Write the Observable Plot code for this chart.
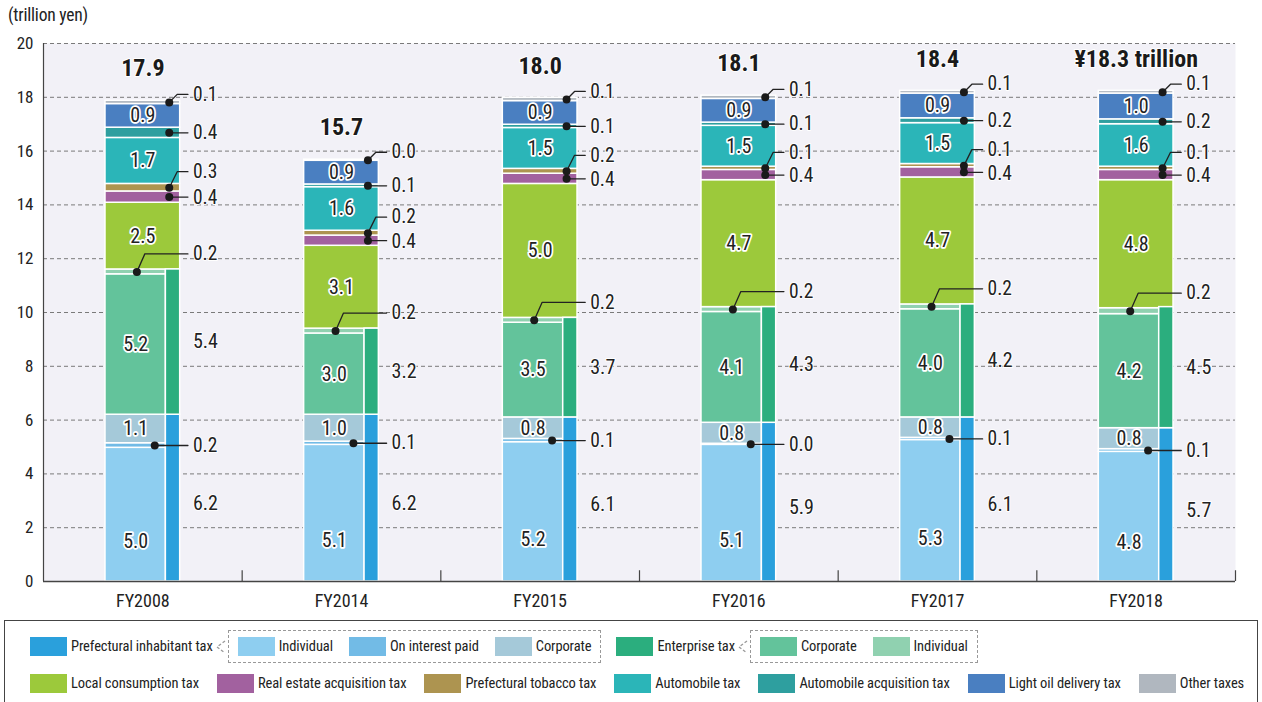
<!DOCTYPE html>
<html>
<head>
<meta charset="utf-8">
<script src="https://cdn.jsdelivr.net/npm/d3@7"></script>
<script src="https://cdn.jsdelivr.net/npm/@observablehq/plot@0.6"></script>
<style>
  html, body { margin: 0; padding: 0; background: #fff; }
  body { width: 1262px; height: 702px; position: relative; overflow: hidden;
         font-family: 'Liberation Sans Narrow', 'Roboto Condensed', 'DejaVu Sans Condensed', 'Arial Narrow', Roboto, sans-serif; color: #222; }
  #unit { position: absolute; left: 8px; top: 5px; font-size: 17.5px; letter-spacing: -0.2px; }
  #chart { position: absolute; left: 0; top: 0; }
  #legend { position: absolute; left: 4px; top: 620px; width: 1254px; height: 100px;
            border: 1.5px solid #444; border-bottom: none; box-sizing: border-box; }
  .row { position: absolute; left: 25px; display: flex; align-items: center; height: 33px; font-size: 14.5px; letter-spacing: -0.1px; white-space: nowrap; }
  .item { display: flex; align-items: center; margin-right: 16px; }
  .sw { width: 37px; height: 19px; margin-right: 4px; }
  .group { border: 1.5px dashed #999; height: 33px; display: flex; align-items: center; padding-left: 9px; margin-right: 15px; box-sizing: border-box; }
  .group .item:last-child { margin-right: 9px; }
  .chev { margin: 0 1px 0 -14px; }
  #row2 .item { margin-right: 18px; }
</style>
</head>
<body>
<div id="unit">(trillion yen)</div>
<div id="chart"></div>
<div id="legend"></div>
<script>
// ---------------- data ----------------
const years = ["FY2008", "FY2014", "FY2015", "FY2016", "FY2017", "FY2018"];
const totalLabels = ["17.9", "15.7", "18.0", "18.1", "18.4", "¥18.3 trillion"];

const inhabitantTotal = [6.2, 6.2, 6.1, 5.9, 6.1, 5.7];
const enterpriseTotal = [5.4, 3.2, 3.7, 4.3, 4.2, 4.5];

const inhIndividual    = [4.97, 5.08, 5.18, 5.08, 5.26, 4.82];
const inhInterest      = [0.17, 0.12, 0.12, 0.04, 0.08, 0.10];
const inhCorporate     = [1.06, 1.00, 0.80, 0.78, 0.76, 0.78];
const entCorporate     = [5.22, 3.02, 3.52, 4.12, 4.02, 4.24];
const entIndividual    = [0.18, 0.18, 0.18, 0.18, 0.18, 0.22];
const localConsumption = [2.48, 3.08, 4.98, 4.72, 4.72, 4.76];
const realEstate       = [0.42, 0.38, 0.38, 0.38, 0.38, 0.38];
const tobacco          = [0.28, 0.18, 0.18, 0.12, 0.12, 0.12];
const automobile       = [1.71, 1.62, 1.52, 1.52, 1.52, 1.58];
const autoAcquisition  = [0.38, 0.10, 0.12, 0.12, 0.18, 0.18];
const lightOil         = [0.88, 0.88, 0.88, 0.88, 0.92, 0.96];
const otherTaxes       = [0.12, 0.04, 0.12, 0.12, 0.10, 0.10];

// ---------------- layout / style config ----------------
const FONT = "'Liberation Sans Narrow', 'Roboto Condensed', 'DejaVu Sans Condensed', 'Arial Narrow', Roboto, sans-serif";
const W = 1262, H = 615, MT = 43, MB = 34, ML = 43, MR = 27;
const pxY = 20 / (H - MT - MB);          // data units per pixel (vertical)
const X0 = 0.312, XSUB = 0.616, X1 = 0.688, XLINE = 0.727, XLAB = 0.752;

const series = [
  {name: "Individual",       values: inhIndividual,    color: "#8ecef0", part: "sub", inside: 0.3},
  {name: "On interest paid", values: inhInterest,      color: "#72bbe6", part: "sub", callout: {cx: 0.56, dy: 0}},
  {name: "Corporate",        values: inhCorporate,     color: "#a5c9d9", part: "sub", inside: 0.5},
  {name: "Corporate",        values: entCorporate,     color: "#63c39b", part: "sub", inside: 0.5},
  {name: "Individual",       values: entIndividual,    color: "#90d1b0", part: "sub", callout: {cx: 0.47, dy: -18}},
  {name: "Local consumption tax",       values: localConsumption, color: "#9cc93b", part: "full", inside: 0.5},
  {name: "Real estate acquisition tax", values: realEstate,       color: "#a2619f", part: "full", callout: {cx: 0.633, dy: 1}},
  {name: "Prefectural tobacco tax",     values: tobacco,          color: "#ad9450", part: "full", callout: {cx: 0.633, dy: -16}},
  {name: "Automobile tax",              values: automobile,       color: "#2bb5b8", part: "full", inside: 0.5},
  {name: "Automobile acquisition tax",  values: autoAcquisition,  color: "#2e9f9f", part: "full", callout: {cx: 0.633, dy: 0}},
  {name: "Light oil delivery tax",      values: lightOil,         color: "#4a7fc1", part: "full", inside: 0.5},
  {name: "Other taxes",                 values: otherTaxes,       color: "#b0b7bf", part: "full", callout: {cx: 0.633, dy: -8}}
];
const inhabitantColor = "#2aa0dc", enterpriseColor = "#2bae7e";

// ---------------- derived tables ----------------
const fmt = d3.format(".1f");
const segs = [], insideLabels = [], callDots = [], callLines = [], callLabels = [], sideBars = [], sideLabels = [], tops = [];
years.forEach((yr, i) => {
  let cum = 0;
  series.forEach((s, k) => {
    const v = s.values[i];
    const y1 = cum, y2 = cum + v;
    const xa = i + X0, xb = i + (s.part === "sub" ? XSUB : X1);
    segs.push({x1: xa, x2: xb, y1, y2, color: s.color});
    if (s.inside != null) {
      insideLabels.push({x: (xa + xb) / 2, y: y1 + v * s.inside, text: fmt(v)});
    }
    if (s.callout) {
      const yc = (y1 + y2) / 2, ly = yc - s.callout.dy * pxY;
      const id = `${i}-${k}`;
      const cx = i + s.callout.cx;
      const bent = Math.abs(s.callout.dy) > 2;
      callDots.push({x: cx, y: yc});
      callLines.push({id, x: cx, y: yc});
      if (bent) callLines.push({id, x: cx + 0.04, y: ly});
      callLines.push({id, x: i + XLINE, y: bent ? ly : yc});
      callLabels.push({x: i + XLAB, y: ly, text: fmt(v)});
    }
    cum = y2;
  });
  tops.push({x: i + 0.5, y: cum, text: totalLabels[i]});
  const a = inhabitantTotal[i], b = enterpriseTotal[i];
  sideBars.push({x1: i + XSUB, x2: i + X1, y1: 0, y2: a, color: inhabitantColor});
  sideBars.push({x1: i + XSUB, x2: i + X1, y1: a, y2: a + b, color: enterpriseColor});
  sideLabels.push({x: i + XLAB, y: a / 2 - 0.2, text: fmt(a)});
  sideLabels.push({x: i + XLAB, y: a + b / 2, text: fmt(b)});
});

// ---------------- chart ----------------
const chart = Plot.plot({
  width: W, height: H,
  marginTop: MT, marginBottom: MB, marginLeft: ML, marginRight: MR,
  style: {fontFamily: FONT, color: "#222", background: "transparent"},
  x: {type: "linear", domain: [0, years.length]},
  y: {domain: [0, 20]},
  marks: [
    Plot.frame({fill: "#f2f1f7", stroke: null}),
    Plot.ruleY(d3.range(2, 21, 2), {stroke: "#7a7a7a", strokeWidth: 1, strokeDasharray: "4,3"}),
    Plot.axisY({ticks: d3.range(0, 21, 2), tickSize: 0, tickPadding: 10, fontSize: 17, label: null}),
    Plot.axisX({ticks: d3.range(years.length).map(i => i + 0.5), tickFormat: d => years[Math.floor(d)],
                tickSize: 0, tickPadding: 13, fontSize: 18, label: null}),
    Plot.rect(segs, {x1: "x1", x2: "x2", y1: "y1", y2: "y2", fill: "color", stroke: "white", strokeWidth: 1.5}),
    Plot.rect(sideBars, {x1: "x1", x2: "x2", y1: "y1", y2: "y2", fill: "color", stroke: "white", strokeWidth: 1.5}),
    Plot.ruleX([0], {stroke: "#444", strokeWidth: 1.2}),
    Plot.ruleY([0], {stroke: "#444", strokeWidth: 1.5}),
    Plot.ruleX(d3.range(1, years.length + 1), {y1: 0, y2: 0.4, stroke: "#444", strokeWidth: 1.2}),
    Plot.text(insideLabels, {x: "x", y: "y", text: "text", fontSize: 20, fill: "#222", stroke: "white", strokeWidth: 3.5}),
    Plot.line(callLines, {x: "x", y: "y", z: "id", stroke: "#222", strokeWidth: 1.3, curve: "linear"}),
    Plot.dot(callDots, {x: "x", y: "y", r: 4, fill: "#1a1a1a", stroke: null}),
    Plot.text(callLabels, {x: "x", y: "y", text: "text", textAnchor: "start", fontSize: 19.5, fill: "#222", stroke: "white", strokeWidth: 2}),
    Plot.text(sideLabels, {x: "x", y: "y", text: "text", textAnchor: "start", fontSize: 20, fill: "#222", stroke: "white", strokeWidth: 2}),
    Plot.text(tops, {x: "x", y: "y", text: "text", dy: -32, fontSize: 24, fontWeight: "bold", fill: "#1a1a1a", stroke: "white", strokeWidth: 2})
  ]
});
document.getElementById("chart").appendChild(chart);

// ---------------- legend ----------------
const legend = d3.select("#legend");
function item(parent, color, label) {
  const it = parent.append("div").attr("class", "item");
  it.append("div").attr("class", "sw").style("background", color);
  it.append("span").text(label);
}
function chevron(parent) {
  parent.append("svg").attr("class", "chev").attr("width", 12).attr("height", 20)
    .append("polyline").attr("points", "10,4 2,10 10,16")
    .attr("fill", "none").attr("stroke", "#999").attr("stroke-width", 1.3).attr("stroke-dasharray", "3,2");
}
const row1 = legend.append("div").attr("class", "row").style("top", "9px");
item(row1, inhabitantColor, "Prefectural inhabitant tax");
chevron(row1);
const g1 = row1.append("div").attr("class", "group");
[0, 1, 2].forEach(k => item(g1, series[k].color, series[k].name));
item(row1, enterpriseColor, "Enterprise tax");
chevron(row1);
const g2 = row1.append("div").attr("class", "group");
[3, 4].forEach(k => item(g2, series[k].color, series[k].name));

const row2 = legend.append("div").attr("class", "row").attr("id", "row2").style("top", "46px");
[5, 6, 7, 8, 9, 10, 11].forEach(k => item(row2, series[k].color, series[k].name));
</script>
</body>
</html>
